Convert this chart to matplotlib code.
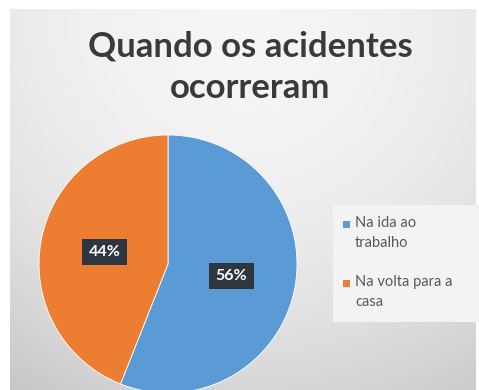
import numpy as np
import matplotlib
matplotlib.use("Agg")
import matplotlib.pyplot as plt
from matplotlib.patches import Rectangle

title = "Quando os acidentes\nocorreram"
categories = ["Na ida ao\ntrabalho", "Na volta para a\ncasa"]
values = [56, 44]
colors = ["#5b9bd5", "#ed7d31"]

W, H = 479, 390
fig = plt.figure(figsize=(W / 100, H / 100), dpi=100)
fig.patch.set_facecolor("white")

# background panel with soft gradient
bg = fig.add_axes([10 / W, 0, (475 - 10) / W, (H - 9) / H])
bg.set_axis_off()
yy, xx = np.mgrid[0:381, 0:465]
dx = (xx - 230) / 235.0
dy = (yy - 30) / 350.0
dy = np.clip(dy, 0, None)
val = 0.962 - 0.045 * dx ** 2 - 0.12 * dy ** 2 - 0.02 * np.clip(-dx, 0, None) * dy
img = np.dstack([val, val, val])
bg.imshow(np.clip(img, 0, 1), aspect="auto", extent=(0, 1, 0, 1), origin="upper")
bg.set_xlim(0, 1)
bg.set_ylim(0, 1)

fig.text(250 / W, 1 - 67 / H, title, ha="center", va="center",
         fontsize=25, fontweight="bold", family="Lato", color="#3a3a3a",
         linespacing=1.38)

cx, cy, r = 168, 264, 129
ax = fig.add_axes([(cx - r) / W, (H - cy - r) / H, 2 * r / W, 2 * r / H])
wedges, texts, autotexts = ax.pie(
    values, colors=colors, startangle=90, counterclock=False, radius=1,
    autopct="%1.0f%%", pctdistance=0.5,
    wedgeprops=dict(edgecolor="white", linewidth=0.6),
    textprops=dict(color="white", fontsize=11.5, fontweight="bold", family="Lato"))
for w in wedges:
    w.set_clip_on(False)
for t in autotexts:
    t.set_bbox(dict(boxstyle="square,pad=0.4", facecolor="#2e3640", edgecolor="none"))
ax.set_xlim(-1, 1)
ax.set_ylim(-1, 1)
ax.set_aspect("equal")
ax.set_axis_off()

# legend panel
fig.add_artist(Rectangle((333 / W, 1 - 322 / H), (W - 333) / W, (322 - 205) / H,
                         transform=fig.transFigure, facecolor="#f3f3f3",
                         edgecolor="none", zorder=2))
for i, (lab, c) in enumerate(zip(categories, colors)):
    ytop = 224 + i * 59
    fig.add_artist(Rectangle((343 / W, 1 - (ytop + 3.5) / H), 7 / W, 7 / H,
                             transform=fig.transFigure, facecolor=c,
                             edgecolor="none", zorder=3))
    fig.text(355 / W, 1 - (ytop - 8) / H, lab, ha="left", va="top",
             fontsize=10.5, family="Lato", color="#595959", linespacing=1.55,
             zorder=3)

fig.savefig("out.png", dpi=100, facecolor="white")
